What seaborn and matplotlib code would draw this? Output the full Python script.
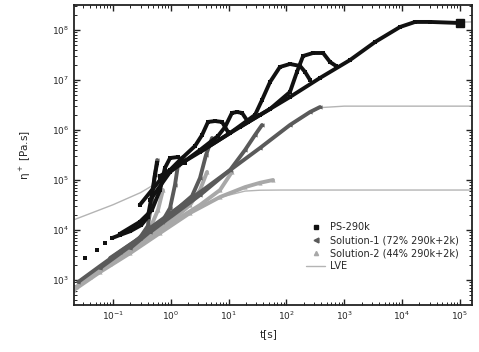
import numpy as np
import pandas as pd
import matplotlib
matplotlib.use("Agg")
import matplotlib.pyplot as plt
from matplotlib.lines import Line2D
import seaborn as sns

# ---- LVE envelopes (t [s], eta+ [Pa.s]) ----
lve_t_290k = [0.021, 0.1, 0.3, 0.65, 1, 3.2, 10.6, 35, 115, 381, 1260, 3410, 9230, 16800, 1.6e5]
lve_eta_290k = [1.6e4, 3.2e4, 5.6e4, 9.5e4, 1.5e5, 3.55e5, 8.5e5, 1.95e6, 4.45e6, 1.07e7, 2.45e7,
                5.6e7, 1.12e8, 1.4e8, 1.45e8]

lve_t_sol1 = [0.021, 0.06, 0.2, 0.44, 1.18, 3.61, 10.6, 34.9, 115, 256, 381, 1000, 1.6e5]
lve_eta_sol1 = [700, 1.7e3, 4.7e3, 1.08e4, 2.45e4, 6.2e4, 1.55e5, 4.3e5, 1.2e6, 2.2e6, 2.8e6, 3.0e6, 3.0e6]

lve_t_sol2 = [0.021, 0.06, 0.2, 0.65, 2.15, 7.1, 19.2, 35, 80, 200, 1.6e5]
lve_eta_sol2 = [630, 1.42e3, 3.4e3, 8.5e3, 2.15e4, 4.5e4, 6.0e4, 6.25e4, 6.3e4, 6.3e4, 6.3e4]

# ---- PS-290k transient elongational viscosity, one list per strain rate ----
# the fastest run starts with a few sparse points before the dense record
ps_fast_t = [0.033, 0.053, 0.073, 0.096]
ps_fast_eta = [2.75e3, 3.98e3, 5.5e3, 6.9e3]
ps_t = [
    [0.096, 0.13, 0.20, 0.31, 0.40, 0.47, 0.53, 0.58],
    [0.13, 0.29, 0.47, 0.65, 0.79, 0.97, 1.33, 1.76],
    [0.29, 0.65, 1.44, 2.62, 3.47, 4.40, 5.82, 7.69, 9.77],
    [0.44, 0.97, 3.2, 6.56, 8.67, 11.4, 14.0, 17.1, 21.7],
    [3.2, 10.6, 28.6, 37.8, 52, 77, 115, 172, 210, 256],
    [15.7, 52, 115, 152, 194, 288, 430, 568, 721],
    [0.65, 0.97, 3.2, 10.6, 34.9, 115, 381, 1260, 3410, 9230, 16800, 30500, 100700],
]
ps_eta = [
    [6.9e3, 7.9e3, 9.5e3, 1.26e4, 1.82e4, 5.0e4, 1.26e5, 2.2e5],
    [8.3e3, 1.45e4, 2.5e4, 6.3e4, 1.74e5, 2.75e5, 2.88e5, 2.2e5],
    [3.16e4, 1.0e5, 2.51e5, 4.79e5, 7.94e5, 1.45e6, 1.51e6, 1.45e6, 9.1e5],
    [3.98e4, 1.45e5, 3.98e5, 7.6e5, 1.15e6, 2.19e6, 2.29e6, 2.19e6, 1.45e6],
    [3.63e5, 8.7e5, 2.0e6, 3.98e6, 9.1e6, 1.82e7, 2.09e7, 1.91e7, 1.45e7, 1.0e7],
    [1.15e6, 2.63e6, 5.75e6, 1.45e7, 3.02e7, 3.47e7, 3.47e7, 2.29e7, 1.91e7],
    [1.2e5, 1.58e5, 3.63e5, 8.7e5, 2.0e6, 4.57e6, 1.1e7, 2.51e7, 5.75e7, 1.15e8, 1.45e8, 1.45e8, 1.38e8],
]

# ---- Solution-1 (72% 290k + 2k) ----
s1_t = [
    [0.060, 0.20, 0.44, 1.18, 3.61, 10.6, 34.9, 115, 256, 381],
    [0.025, 0.060, 0.13, 0.29, 0.40, 0.47, 0.53, 0.58],
    [0.089, 0.29, 0.705, 0.97, 1.18, 1.33, 1.63],
    [0.20, 0.97, 2.33, 3.2, 4.06, 5.16],
    [0.44, 3.2, 10.6, 19.2, 28.6, 37.8],
]
s1_eta = [
    [1.74e3, 4.79e3, 1.1e4, 2.51e4, 6.31e4, 1.58e5, 4.37e5, 1.26e6, 2.29e6, 2.88e6],
    [912, 1.91e3, 3.63e3, 6.92e3, 1.2e4, 3.98e4, 1.26e5, 2.51e5],
    [2.75e3, 6.92e3, 1.45e4, 2.75e4, 7.94e4, 2.0e5, 2.88e5],
    [4.37e3, 2.0e4, 4.79e4, 1.1e5, 3.16e5, 6.92e5],
    [9.1e3, 5.01e4, 1.58e5, 3.98e5, 7.94e5, 1.26e6],
]

# ---- Solution-2 (44% 290k + 2k) ----
s2_t = [
    [0.021, 0.060, 0.20, 0.65, 2.15, 7.1, 19.2, 34.9, 58.6],
    [0.023, 0.089, 0.24, 0.44, 0.60, 0.73],
    [0.040, 0.20, 0.97, 2.15, 3.2, 4.23],
    [0.089, 0.65, 3.2, 7.1, 11.4],
]
s2_eta = [
    [631, 1.45e3, 3.47e3, 8.7e3, 2.19e4, 4.57e4, 7.2e4, 8.8e4, 1.0e5],
    [724, 2.29e3, 5.5e3, 1.1e4, 2.51e4, 6.31e4],
    [1.15e3, 3.98e3, 1.45e4, 3.16e4, 6.31e4, 1.45e5],
    [2.09e3, 1.0e4, 3.16e4, 6.31e4, 1.45e5],
]

series_names = ["PS-290k", "Solution-1 (72% 290k+2k)", "Solution-2 (44% 290k+2k)"]
series_colors = ["#111111", "#5a5a5a", "#a8a8a8"]
series_markers = ["s", "<", "^"]
lve_color = "#b4b4b4"


def long_frame(t_lists, eta_lists, name):
    rows = []
    for k, (ts, es) in enumerate(zip(t_lists, eta_lists)):
        for t, e in zip(ts, es):
            rows.append({"t": t, "eta": e, "series": name, "rate": f"{name}-{k}"})
    return pd.DataFrame(rows)


sns.set_style("ticks")
plt.rcParams["font.family"] = ["DejaVu Sans"]

fig = plt.figure(figsize=(4.79, 3.52), dpi=100)
ax = fig.add_axes([74 / 479, 1 - 305 / 352, (472 - 74) / 479, (305 - 5) / 352])

# LVE predictions (thin grey lines, drawn underneath the data)
lve = pd.concat([
    pd.DataFrame({"t": lve_t_290k, "eta": lve_eta_290k, "m": "a"}),
    pd.DataFrame({"t": lve_t_sol1, "eta": lve_eta_sol1, "m": "b"}),
    pd.DataFrame({"t": lve_t_sol2, "eta": lve_eta_sol2, "m": "c"}),
])
sns.lineplot(data=lve, x="t", y="eta", units="m", estimator=None, sort=False,
             color=lve_color, lw=1.0, ax=ax, zorder=1, legend=False)

frames = [
    long_frame(s2_t, s2_eta, series_names[2]),
    long_frame(s1_t, s1_eta, series_names[1]),
    long_frame(ps_t, ps_eta, series_names[0]),
]
order = [2, 1, 0]
for df, idx in zip(frames, order):
    sns.lineplot(data=df, x="t", y="eta", units="rate", estimator=None, sort=False,
                 color=series_colors[idx], lw=2.8, marker=series_markers[idx],
                 markersize=3, markeredgewidth=0, ax=ax, zorder=2 + (2 - idx),
                 legend=False)

# sparse start of the fastest PS-290k run
sns.scatterplot(x=ps_fast_t, y=ps_fast_eta, marker="s", color="#111111", s=10,
                linewidth=0, ax=ax, zorder=5, legend=False)

# terminal point of the slowest PS-290k run
ax.plot(ps_t[-1][-1], ps_eta[-1][-1], "s", color="#111111", ms=6, zorder=6)

ax.set_xscale("log")
ax.set_yscale("log")
ax.set_xlim(10 ** -1.675, 10 ** 5.21)
ax.set_ylim(10 ** 2.5, 10 ** 8.5)
ax.set_xticks([1e-1, 1e0, 1e1, 1e2, 1e3, 1e4, 1e5])
ax.set_yticks([1e3, 1e4, 1e5, 1e6, 1e7, 1e8])

ax.tick_params(which="both", direction="in", top=True, right=True, labelsize=6.5,
               color="#222222")
ax.tick_params(which="major", length=4, width=1.0)
ax.tick_params(which="minor", length=2, width=0.7)
for s in ax.spines.values():
    s.set_linewidth(1.3)
    s.set_color("#222222")

ax.set_xlabel("t[s]", fontsize=7.5)
ax.xaxis.set_label_coords(0.49, -0.08)
ax.set_ylabel("η$^+$ [Pa.s]", fontsize=7.5)
ax.yaxis.set_label_coords(-0.103, 0.5)

handles = [
    Line2D([], [], ls="none", marker="s", color=series_colors[0], ms=3),
    Line2D([], [], ls="none", marker="<", color=series_colors[1], ms=3.5),
    Line2D([], [], ls="none", marker="^", color=series_colors[2], ms=3),
    Line2D([], [], color=lve_color, lw=1.0),
]
labels = series_names + ["LVE"]
ax.legend(handles, labels, loc="lower right", bbox_to_anchor=(0.985, 0.09),
          frameon=False, fontsize=7.0, handlelength=2.0, labelspacing=0.3,
          handletextpad=0.5, borderpad=0.2)

fig.savefig("out.png", dpi=100)
